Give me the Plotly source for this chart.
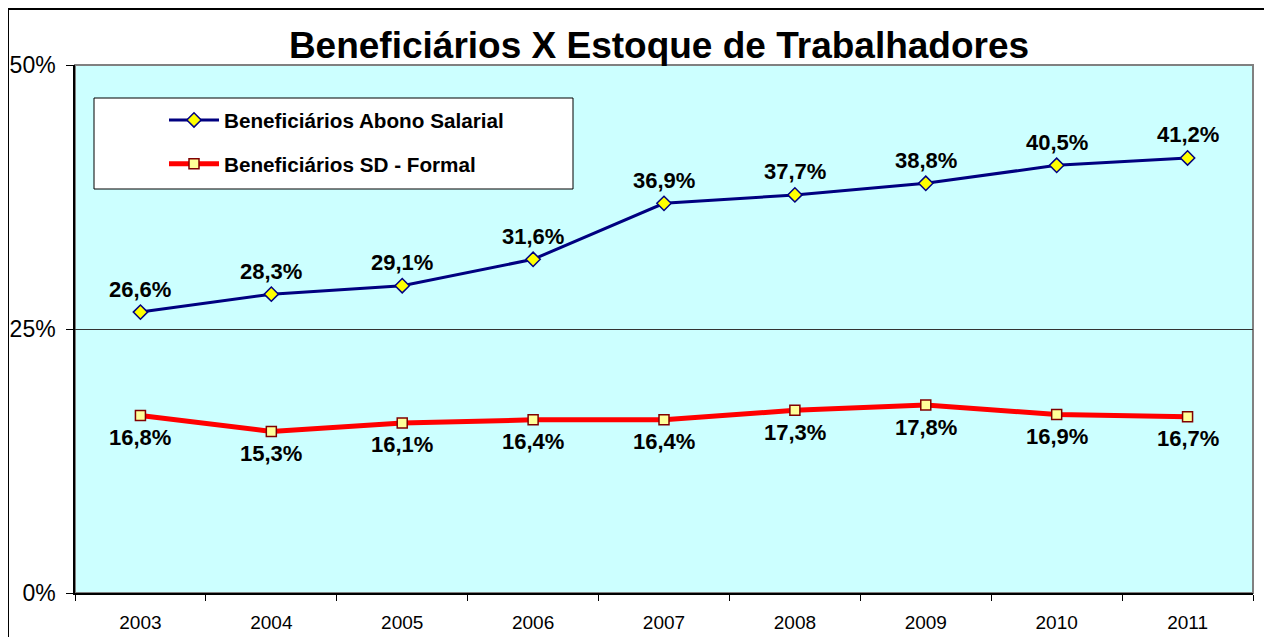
import plotly.graph_objects as go

years = ["2003", "2004", "2005", "2006", "2007", "2008", "2009", "2010", "2011"]
abono = [26.6, 28.3, 29.1, 31.6, 36.9, 37.7, 38.8, 40.5, 41.2]
sd_formal = [16.8, 15.3, 16.1, 16.4, 16.4, 17.3, 17.8, 16.9, 16.7]
y_ticks = [0, 25, 50]

FONT = "Arial, 'Liberation Sans', sans-serif"

def fmt(v):
    return f"{v:.1f}%".replace(".", ",")

fig = go.Figure()
fig.add_trace(go.Scatter(
    x=years, y=abono, mode="lines+markers", name="Beneficiários Abono Salarial",
    legendgroup="a",
    line=dict(color="#000080", width=3),
    marker=dict(symbol="diamond", size=11, color="#FFFF00", line=dict(color="#000080", width=1.5)),
    cliponaxis=False,
))
fig.add_trace(go.Scatter(
    x=years, y=sd_formal, mode="lines+markers", name="Beneficiários SD - Formal",
    legendgroup="b",
    line=dict(color="#FF0000", width=5),
    marker=dict(symbol="square", size=10, color="#FFFF99", line=dict(color="#800000", width=1.5)),
    cliponaxis=False,
))

# data labels (category axis: annotation x given as the category index)
for i, v in enumerate(abono):
    fig.add_annotation(x=i, y=v, xref="x", yref="y", text=f"<b>{fmt(v)}</b>",
                       showarrow=False, yanchor="middle", yshift=23,
                       font=dict(family=FONT, size=22, color="#000000"))
for i, v in enumerate(sd_formal):
    fig.add_annotation(x=i, y=v, xref="x", yref="y", text=f"<b>{fmt(v)}</b>",
                       showarrow=False, yanchor="middle", yshift=-22,
                       font=dict(family=FONT, size=22, color="#000000"))

OFF = 8  # page body margin
W, H = 1264, 629
PL, PR, PT, PB = 75, 1253, 65, 593  # plot area in page pixels
L, T = PL - OFF, PT - OFF
R = W - (PR - OFF)
B = H - (PB - OFF)
pw, ph = W - L - R, H - T - B

def px2x(px):
    return (px - PL) / pw

def py2y(py):
    return (PB - py) / ph

fig.update_layout(
    width=W, height=H,
    margin=dict(l=L, r=R, t=T, b=B, autoexpand=False),
    paper_bgcolor="#FFFFFF",
    plot_bgcolor="#CCFFFF",
    font=dict(family=FONT, color="#000000"),
    title=dict(text="<b>Beneficiários X Estoque de Trabalhadores</b>",
               font=dict(family=FONT, size=37, color="#000000"),
               x=px2x(659), xref="paper", xanchor="center",
               y=1 - (45 - OFF) / H, yanchor="middle"),
    showlegend=True,
    legend=dict(
        x=px2x(164), y=py2y(100), xanchor="left", yanchor="top",
        bgcolor="rgba(0,0,0,0)", borderwidth=0,
        font=dict(family=FONT, size=20.7, color="#000000", weight="bold"),
        traceorder="grouped", tracegroupgap=14, itemwidth=50,
    ),
    xaxis=dict(
        type="category", tickson="boundaries", ticks="outside", ticklen=6,
        tickcolor="#000000", showline=True, linecolor="#000000", linewidth=1.5,
        showgrid=False, tickfont=dict(family=FONT, size=19, color="#000000"),
        ticklabelstandoff=11, automargin=False,
        range=[-0.5, 8.5],
    ),
    yaxis=dict(
        range=[0, 50], tickvals=y_ticks, ticktext=[f"{v}%" for v in y_ticks],
        ticks="outside", ticklen=7,
        tickcolor="#000000", showline=True, linecolor="#000000", linewidth=1.5,
        showgrid=True, gridcolor="#333333", gridwidth=1, zeroline=False,
        tickfont=dict(family=FONT, size=23, color="#000000"),
        ticklabelstandoff=6, automargin=False,
    ),
    shapes=[
        dict(type="rect", xref="paper", yref="paper", x0=0, x1=1, y0=0, y1=1,
             line=dict(color="#808080", width=2), layer="below"),
        dict(type="rect", xref="paper", yref="paper",
             x0=px2x(94), x1=px2x(573), y0=py2y(189), y1=py2y(98),
             fillcolor="#FFFFFF", line=dict(color="#000000", width=1), layer="below"),
        dict(type="rect", xref="paper", yref="paper",
             x0=px2x(8), x1=px2x(1268), y0=py2y(645), y1=py2y(9),
             line=dict(color="#000000", width=2), layer="below"),
    ],
)

fig.write_html("out.html")
